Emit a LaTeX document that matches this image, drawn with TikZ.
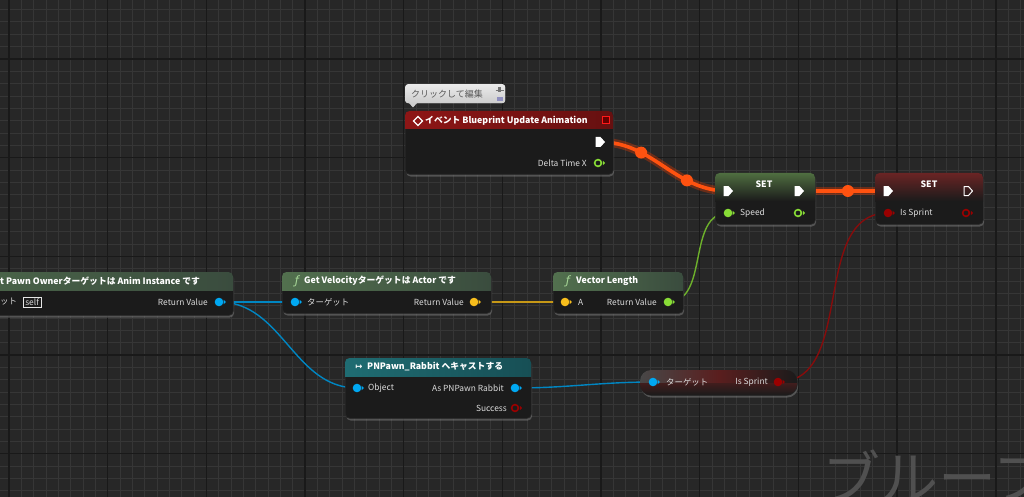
\documentclass[tikz,border=0pt]{standalone}
\usepackage{fontspec}
\setmainfont{Noto Sans CJK JP}
\newfontfamily\djv{DejaVu Sans}
\usetikzlibrary{shadows}
\definecolor{bg}{HTML}{272727}
\definecolor{gminor}{HTML}{363636}
\definecolor{gmajor}{HTML}{191919}
\definecolor{bodyc}{HTML}{1B1B1B}
\definecolor{txt}{HTML}{DCDCDC}
\definecolor{objblue}{HTML}{00A8F2}
\definecolor{vecyel}{HTML}{F8BE1C}
\definecolor{fltgreen}{HTML}{88DC36}
\definecolor{boolred}{HTML}{990000}
\definecolor{execor}{HTML}{FF5210}
\definecolor{execglowc}{HTML}{E83A00}
\definecolor{wirered}{HTML}{860C0C}
\definecolor{wm}{HTML}{505050}
\definecolor{fgreen}{HTML}{A8D898}
\definecolor{fnL}{HTML}{52704E}
\definecolor{fnR}{HTML}{3A4C3E}
\definecolor{evL}{HTML}{8E1616}
\definecolor{evR}{HTML}{661010}
\definecolor{caL}{HTML}{1F6C72}
\definecolor{caR}{HTML}{174F55}
\definecolor{setG}{HTML}{4F6E40}
\definecolor{setR}{HTML}{6A2424}
\definecolor{pillR}{HTML}{5A1E1E}
\tikzset{
  nbody/.style={draw=black!85, line width=0.7pt, fill=bodyc, rounded corners=4.5pt, inner sep=0pt, anchor=north west,
    drop shadow={opacity=0.5, shadow xshift=0.8pt, shadow yshift=-2.2pt}},
  ttl/.style={text=white, font=\fontsize{8.8}{9}\selectfont\bfseries, inner sep=0pt, anchor=west},
  lbl/.style={text=txt, font=\fontsize{8.4}{9}\selectfont, inner sep=0pt},
  lblw/.style={lbl, anchor=west},
  lble/.style={lbl, anchor=east},
  fico/.style={text=fgreen, font=\djv\fontsize{11.5}{11}\selectfont\itshape, inner sep=0pt},
  execglow/.style={draw=execglowc, line width=8.5pt, opacity=0.35, line cap=round},
  execcore/.style={draw=execor, line width=3.6pt, line cap=round},
  execdot/.style={circle, fill=execor, inner sep=0pt, minimum size=12pt},
  wire/.style={line width=1.4pt},
  execpin/.pic={\fill[white] (-4.5,-5) -- (0.5,-5) -- (5,0) -- (0.5,5) -- (-4.5,5) -- cycle;},
  execpinh/.pic={\draw[white, line width=1pt, line join=round] (-4,-4.5) -- (0.5,-4.5) -- (4.5,0) -- (0.5,4.5) -- (-4,4.5) -- cycle;},
  datapin/.pic={\fill[#1] (0,0) circle (4.3pt); \fill[#1] (4.6,-2.2) -- (7,0) -- (4.6,2.2) -- cycle;},
  datapinh/.pic={\draw[#1, line width=1.6pt, fill=bodyc] (0,0) circle (3.4pt); \fill[#1] (4.9,-2.2) -- (7.2,0) -- (4.9,2.2) -- cycle;},
}
\begin{document}
\begin{tikzpicture}[x=1pt,y=-1pt]
\useasboundingbox (0,0) rectangle (1024,497);
\clip (0,0) rectangle (1024,497);
% background grid
\fill[bg] (0,0) rectangle (1024,497);
\foreach \i in {-1,...,83} {\pgfmathsetmacro\gx{9+12.335*\i}\draw[gminor, line width=1pt] (\gx,0) -- (\gx,497);}
\foreach \j in {-5,...,36} {\pgfmathsetmacro\gy{59+12.335*\j}\draw[gminor, line width=1pt] (0,\gy) -- (1024,\gy);}
\foreach \k in {0,...,10} {\pgfmathsetmacro\gx{9+98.68*\k}\draw[gmajor, line width=1.4pt] (\gx,0) -- (\gx,497);}
\foreach \k in {-1,...,4} {\pgfmathsetmacro\gy{59+98.68*\k}\draw[gmajor, line width=1.4pt] (0,\gy) -- (1024,\gy);}

% watermark
\node[anchor=base west, text=wm, font=\fontsize{58}{58}\selectfont, inner sep=0pt] (wmark) at (822,499) {ブルーフ};

% pin coordinates
\coordinate (evx) at (600,142);
\coordinate (evdt) at (598,163);
\coordinate (s1in) at (728,191);
\coordinate (s1out) at (799,191);
\coordinate (s1spd) at (728,213);
\coordinate (s1spo) at (798,213);
\coordinate (s2in) at (888,191);
\coordinate (s2out) at (968,191);
\coordinate (s2is) at (888,213);
\coordinate (s2iso) at (966,213);
\coordinate (poret) at (219,302);
\coordinate (gvtgt) at (295,302);
\coordinate (gvret) at (474,302);
\coordinate (vla) at (565,302);
\coordinate (vlret) at (668,302);
\coordinate (caobj) at (357,388);
\coordinate (caas) at (515,388);
\coordinate (casuc) at (515,408);
\coordinate (gttgt) at (653,382);
\coordinate (gtis) at (778,382);

% wires
\draw[wire, draw=objblue!80!black] (poret) -- (gvtgt);
\draw[wire, draw=objblue!80!black] (poret) to[out=0,in=180] (caobj);
\draw[wire, draw=vecyel!80!black] (gvret) -- (vla);
\draw[wire, draw=fltgreen!80!black] (vlret) to[out=0,in=180] (s1spd);
\draw[wire, draw=objblue!80!black] (caas) to[out=0,in=180] (gttgt);
\draw[wire, draw=wirered] (gtis) to[out=0,in=180] (s2is);
\draw[execglow] (evx) to[out=0,in=180] (s1in);
\draw[execglow] (s1out) -- (s2in);
\draw[execcore] (evx) to[out=0,in=180] node[pos=0.3, execdot] (d1) {} node[pos=0.7, execdot] (d2) {} (s1in);
\draw[execcore] (s1out) -- node[pos=0.55, execdot] (d3) {} (s2in);

% tooltip
\node[fill=white!85!black, rounded corners=3pt, minimum width=100pt, minimum height=19pt, inner sep=0pt, anchor=north west,
  top color=white!92!black, bottom color=white!80!black] (tip) at (405,84) {};
\fill[white!80!black] (409,103) -- (413,107.5) -- (417,103) -- cycle;
\node[anchor=west, inner sep=0pt, text=black!65, font=\fontsize{9}{9}\selectfont] (tiptxt) at (411,94) {クリックして編集};
\draw[black!55, line width=0.8pt] (495.5,90) -- (503.5,90);
\fill[black!55] (498,87.5) rectangle (500.5,92.5);
\fill[blue!25!white!75!black] (496.5,97) rectangle (503,101);

% event node
\node[nbody, minimum width=208pt, minimum height=63pt] (ev) at (405,111) {};
\begin{scope}
\clip[rounded corners=4.5pt] (405,111) rectangle (613,174);
\shade[left color=evL, right color=evR] (405,111) rectangle (613,129);
\end{scope}
\draw[white, line width=1.2pt] (413.5,121) -- (418,116.5) -- (422.5,121) -- (418,125.5) -- cycle;
\draw[red!90!white, fill=black!60!red, line width=1pt] (602.5,117) rectangle (609.5,124);
\node[ttl] (evttl) at (425,121) {イベント Blueprint Update Animation};
\node[lble] (evdtl) at (587,163) {Delta Time X};

% SET 1
\node[nbody, minimum width=100pt, minimum height=51pt] (s1) at (715,173) {};
\begin{scope}
\clip[rounded corners=4.5pt] (715,173) rectangle (815,224);
\shade[top color=setG, bottom color=bodyc] (715,173) rectangle (815,201);
\end{scope}
\node[ttl, anchor=center] (s1ttl) at (764,184) {SET};
\node[lblw] (s1spdl) at (740,213) {Speed};

% SET 2
\node[nbody, minimum width=108pt, minimum height=51pt] (s2) at (875,173) {};
\begin{scope}
\clip[rounded corners=4.5pt] (875,173) rectangle (983,224);
\shade[top color=setR, bottom color=bodyc] (875,173) rectangle (983,201);
\end{scope}
\node[ttl, anchor=center] (s2ttl) at (929,184) {SET};
\node[lblw] (s2isl) at (900,213) {Is Sprint};

% Pawn owner
\node[nbody, minimum width=383pt, minimum height=43pt] (po) at (-150,272) {};
\begin{scope}
\clip[rounded corners=4.5pt] (-150,272) rectangle (233,315);
\shade[left color=fnL, right color=fnR] (-150,272) rectangle (233,290);
\end{scope}
\node[ttl] (pottl) at (0,281) {t Pawn Ownerターゲットは Anim Instance です};
\node[lblw] (potgt) at (0,302) {ット};
\node[lbl, draw=txt!75, line width=0.6pt, inner xsep=2pt, inner ysep=1.5pt, anchor=west] (poself) at (23,302) {self};
\node[lble] (poretl) at (208,302) {Return Value};

% Get Velocity
\node[nbody, minimum width=209pt, minimum height=41pt] (gv) at (282,272) {};
\begin{scope}
\clip[rounded corners=4.5pt] (282,272) rectangle (491,313);
\shade[left color=fnL, right color=fnR] (282,272) rectangle (491,290);
\end{scope}
\node[fico] (gvico) at (297,281) {ƒ};
\node[ttl] (gvttl) at (304,281) {Get Velocityターゲットは Actor です};
\node[lblw] (gvtgtl) at (307,302) {ターゲット};
\node[lble] (gvretl) at (464,302) {Return Value};

% Vector Length
\node[nbody, minimum width=130pt, minimum height=41pt] (vl) at (553,272) {};
\begin{scope}
\clip[rounded corners=4.5pt] (553,272) rectangle (683,313);
\shade[left color=fnL, right color=fnR] (553,272) rectangle (683,290);
\end{scope}
\node[fico] (vlico) at (568,281) {ƒ};
\node[ttl] (vlttl) at (576,281) {Vector Length};
\node[lblw] (vlal) at (578,302) {A};
\node[lble] (vlretl) at (657,302) {Return Value};

% Cast
\node[nbody, minimum width=186pt, minimum height=60pt] (ca) at (345,358) {};
\begin{scope}
\clip[rounded corners=4.5pt] (345,358) rectangle (531,418);
\shade[left color=caL, right color=caR] (345,358) rectangle (531,376);
\end{scope}
\node[text=white, font=\djv\fontsize{8.5}{9}\selectfont\bfseries, inner sep=0pt] (caico) at (359,367) {↦};
\node[ttl] (cattl) at (367,367) {PNPawn\_Rabbit へキャストする};
\node[lblw] (caobjl) at (368,388) {Object};
\node[lble] (caasl) at (504,388) {As PNPawn Rabbit};
\node[lble] (casucl) at (507,408) {Success};

% Getter pill
\node[nbody, rounded corners=11pt, minimum width=157pt, minimum height=25pt] (gt) at (640,370) {};
\begin{scope}
\clip[rounded corners=11pt] (640,370) rectangle (797,395);
\shade[left color=black!72, right color=bodyc, middle color=pillR] (640,370) rectangle (797,383);
\shade[top color=pillR!60!bodyc, bottom color=bodyc] (640,383) rectangle (797,395);
\end{scope}
\node[lblw] (gttgtl) at (666,382) {ターゲット};
\node[lble] (gtisl) at (768,382) {Is Sprint};

% pins
\pic at (evx) {execpin};
\pic at (evdt) {datapinh=fltgreen};
\pic at (s1in) {execpin};
\pic at (s1out) {execpin};
\pic at (s1spd) {datapin=fltgreen};
\pic at (s1spo) {datapinh=fltgreen};
\pic at (s2in) {execpin};
\pic at (s2out) {execpinh};
\pic at (s2is) {datapin=boolred};
\pic at (s2iso) {datapinh=boolred};
\pic at (poret) {datapin=objblue};
\pic at (gvtgt) {datapin=objblue};
\pic at (gvret) {datapin=vecyel};
\pic at (vla) {datapin=vecyel};
\pic at (vlret) {datapin=fltgreen};
\pic at (caobj) {datapin=objblue};
\pic at (caas) {datapin=objblue};
\pic at (casuc) {datapinh=boolred};
\pic at (gttgt) {datapin=objblue};
\pic at (gtis) {datapin=boolred};
\end{tikzpicture}
\end{document}
